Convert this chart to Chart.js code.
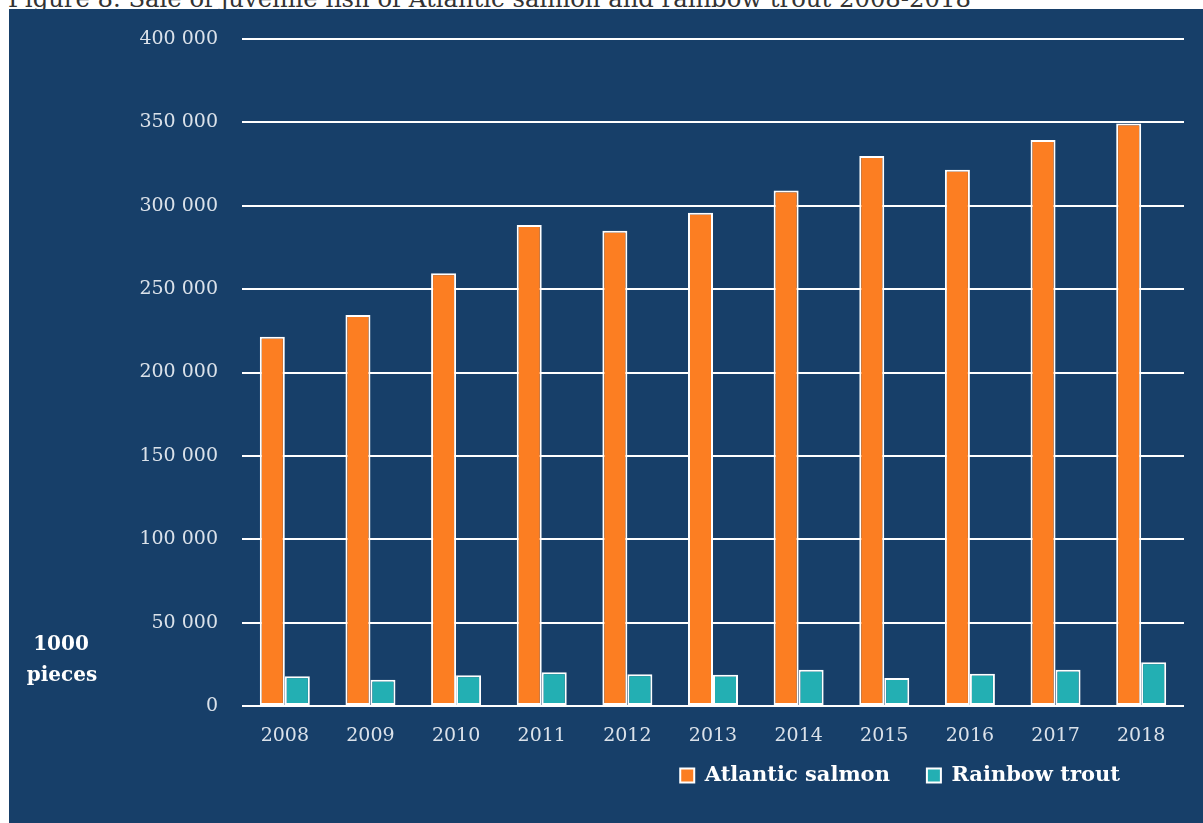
<!DOCTYPE html>
<html>
<head>
<meta charset="utf-8">
<title>Sale of juvenile fish 2008-2018</title>
<script src="https://cdn.jsdelivr.net/npm/chart.js@4/dist/chart.umd.min.js"></script>
<style>
    html, body {
        margin: 0;
        padding: 0;
        width: 1203px;
        height: 823px;
        overflow: hidden;
        background: #ffffff;
    }
    #title {
        position: absolute;
        left: 8px;
        top: -16px;
        font: 24.3px 'DejaVu Serif', serif;
        color: #333333;
        white-space: nowrap;
    }
    #panel {
        position: absolute;
        left: 9px;
        top: 9px;
        width: 1194px;
        height: 814px;
        background: #173f69;
    }
</style>
</head>
<body>
<div id="title">Figure 8. Sale of juvenile fish of Atlantic salmon and rainbow trout 2008-2018</div>
<div id="panel"><canvas id="fishChart"></canvas></div>
<script>
// Years on the x axis
const years = ['2008', '2009', '2010', '2011', '2012', '2013', '2014', '2015', '2016', '2017', '2018'];

// Sold juvenile fish, 1000 pieces
const atlanticSalmon = [221500, 234500, 259500, 288500, 285000, 295800, 309200, 329800, 321600, 339400, 349400];
const rainbowTrout = [17800, 15800, 18400, 20200, 19000, 18800, 21800, 16800, 19400, 21800, 26200];

// Y axis range
const yMin = 0;
const yMax = 400000;
const yStep = 50000;

const unitLines = ['1000', 'pieces'];

const fontFamily = "'DejaVu Serif', serif";

// "400 000" style numbers
function formatThousands(value) {
    return String(value).replace(/\B(?=(\d{3})+(?!\d))/g, ' ');
}

// Draws the unit label at the lower left of the panel
const unitLabelPlugin = {
    id: 'unitLabel',
    afterDraw(chart) {
        const ctx = chart.ctx;
        const bottom = chart.chartArea.bottom;
        ctx.save();
        ctx.font = 'bold 20px ' + fontFamily;
        ctx.fillStyle = '#ffffff';
        ctx.textAlign = 'center';
        ctx.textBaseline = 'alphabetic';
        ctx.fillText(unitLines[0], 52, bottom - 56);
        ctx.fillText(unitLines[1], 53, bottom - 25);
        ctx.restore();
    }
};

// Nudges the legend up under the year labels and in from the right edge
const legendShiftPlugin = {
    id: 'legendShift',
    afterLayout(chart) {
        const legend = chart.legend;
        if (legend) {
            legend.left -= 27;
            legend.right -= 27;
            legend.top -= 22;
            legend.bottom -= 22;
        }
    }
};

const ctx = document.getElementById('fishChart').getContext('2d');

new Chart(ctx, {
    type: 'bar',
    data: {
        labels: years,
        datasets: [
            {
                label: 'Atlantic salmon',
                data: atlanticSalmon,
                backgroundColor: '#fc7e22',
                borderColor: '#ffffff',
                borderWidth: 2,
                borderSkipped: false,
                categoryPercentage: 0.584,
                barPercentage: 1
            },
            {
                label: 'Rainbow trout',
                data: rainbowTrout,
                backgroundColor: '#23afb3',
                borderColor: '#ffffff',
                borderWidth: 2,
                borderSkipped: false,
                categoryPercentage: 0.584,
                barPercentage: 1
            }
        ]
    },
    options: {
        responsive: true,
        maintainAspectRatio: false,
        animation: false,
        layout: {
            padding: { top: 30, right: 19, bottom: 5, left: 0 }
        },
        plugins: {
            title: { display: false },
            tooltip: { enabled: false },
            legend: {
                position: 'bottom',
                align: 'end',
                labels: {
                    color: '#ffffff',
                    boxWidth: 14,
                    boxHeight: 14,
                    padding: 37,
                    font: { family: fontFamily, size: 21, weight: 'bold' }
                }
            }
        },
        scales: {
            x: {
                grid: { display: false, drawTicks: false },
                border: { display: false },
                ticks: {
                    color: '#dbe2ea',
                    padding: 19,
                    font: { family: fontFamily, size: 19 }
                },
                afterFit(scale) {
                    scale.height = 44;
                }
            },
            y: {
                min: yMin,
                max: yMax,
                border: { display: false },
                grid: {
                    color: '#ffffff',
                    lineWidth: 2,
                    drawTicks: false
                },
                ticks: {
                    stepSize: yStep,
                    color: '#dbe2ea',
                    padding: 24,
                    font: { family: fontFamily, size: 19 },
                    callback: value => formatThousands(value)
                },
                afterFit(scale) {
                    scale.width = 233;
                    // only half a label of room above and below the axis
                    scale.paddingTop = 12;
                    scale.paddingBottom = 12;
                }
            }
        }
    },
    plugins: [unitLabelPlugin, legendShiftPlugin]
});
</script>
</body>
</html>
